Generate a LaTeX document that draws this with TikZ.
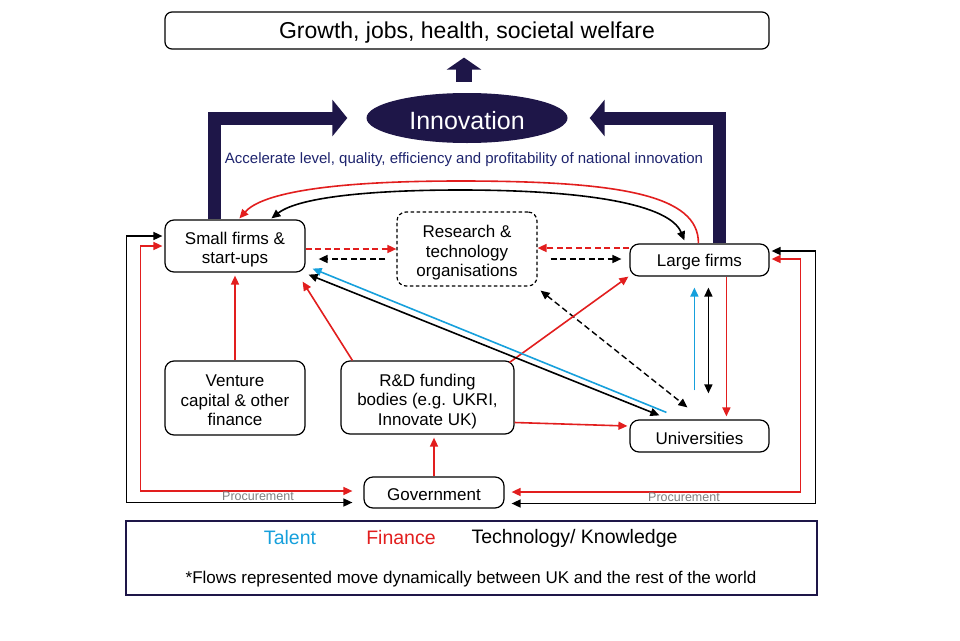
\documentclass[tikz,border=0pt]{standalone}
\usepackage{fontspec}
\setmainfont{Liberation Sans}
\usetikzlibrary{arrows.meta,shapes.geometric,calc}
\definecolor{navy}{RGB}{30,22,72}
\definecolor{fred}{RGB}{226,30,30}
\definecolor{tblue}{RGB}{22,160,220}
\definecolor{accblue}{RGB}{30,36,110}
\definecolor{procgray}{RGB}{128,128,128}
\newcommand\tlift{\rule{0pt}{20pt}}
\newcommand\slift{\rule{0pt}{16.5pt}}
\begin{document}
\begin{tikzpicture}[x=1pt,y=-1pt,
  >={Triangle[length=9pt,width=8pt]},
  box/.style={draw=black, line width=1.2pt, rounded corners=9pt, align=center, inner sep=0pt,
    font=\fontsize{17}{19.5}\selectfont},
  dbox/.style={box, dash pattern=on 3.5pt off 2.5pt},
  fin/.style={draw=fred, line width=1.6pt},
  tal/.style={draw=tblue, line width=1.6pt},
  tech/.style={draw=black, line width=1.6pt},
  dsh/.style={dash pattern=on 6pt off 3.5pt},
  bigarrow/.style={draw=navy, line width=13pt, line join=miter, -{Triangle[length=15pt,width=36pt]}},
  proc/.style={text=procgray, font=\fontsize{12.5}{14}\selectfont, inner sep=0pt},
  leg/.style={font=\fontsize{19.5}{22}\selectfont, inner sep=0pt}
]
\useasboundingbox (0,0) rectangle (960,640);
\fill[white] (0,0) rectangle (960,640);

% nodes
\node[box, rounded corners=7pt, minimum width=604pt, minimum height=37pt,
  font=\fontsize{23}{26}\selectfont] (top) at (467,30.5) {\rule{0pt}{21.5pt}Growth, jobs, health, societal welfare};
\node[ellipse, fill=navy, minimum width=201pt, minimum height=50pt, inner sep=0pt,
  text=white, font=\fontsize{25}{28}\selectfont] (inn) at (467,118) {\rule{0pt}{23pt}Innovation};
\node[text=accblue, font=\fontsize{15}{17}\selectfont, inner sep=0pt] (acc) at (464,160)
  {Accelerate level, quality, efficiency and profitability of national innovation};

\node[box, minimum width=140pt, minimum height=52pt] (sf) at (235,246) {\tlift Small firms \&\\start-ups};
\node[dbox, minimum width=140pt, minimum height=74pt] (rto) at (467,249) {\tlift Research \&\\technology\\organisations};
\node[box, minimum width=139pt, minimum height=32pt] (lf) at (699.5,260) {\slift Large firms};
\node[box, minimum width=140pt, minimum height=74pt] (vc) at (235,398) {\rule{0pt}{17pt}Venture\\capital \& other\\finance};
\node[box, minimum width=173pt, minimum height=73pt] (rd) at (427.5,397.5) {\tlift R\&D funding\\bodies (e.g. UKRI,\\Innovate UK)};
\node[box, minimum width=139pt, minimum height=32pt] (uni) at (699.5,436) {\slift Universities};
\node[box, minimum width=140pt, minimum height=31pt] (gov) at (434,492.5) {\slift Government};

% legend
\node[draw=navy, line width=1.3pt, minimum width=691pt, minimum height=74pt, inner sep=0pt] (lg) at (471.5,558) {};
\node[leg, text=tblue] (lt) at (290,538) {Talent};
\node[leg, text=fred] (lfin) at (401,538) {Finance};
\node[leg] (ltk) at (574.5,538) {Technology/ Knowledge};
\node[font=\fontsize{17}{19}\selectfont, inner sep=0pt] (fn) at (471,579)
  {*Flows represented move dynamically between UK and the rest of the world};

% big arrows
\draw[bigarrow] ($(sf.north west)+(50,0)$) |- ($(inn.west)+(-19,0)$);
\draw[bigarrow] ($(lf.north west)+(90.5,0)$) |- ($(inn.east)+(22,0)$);
\draw[draw=navy, line width=16pt, -{Triangle[length=12pt,width=34pt]}]
  ($(inn.north)+(-3,-11)$) -- ($(top.south)+(-3,8)$);

% RTO links
\draw[fin, dsh, ->] ($(sf.east)+(0,3)$) -- (rto.west);
\draw[tech, dsh, ->] ($(rto.west)+(-11,10)$) -- ($(sf.east)+(13,13)$);
\draw[fin, dsh, ->] ($(lf.west)+(0,-12)$) -- ($(rto.east)+(0,-1)$);
\draw[tech, dsh, ->] ($(rto.east)+(13,10)$) -- ($(lf.west)+(-8,-1)$);
\draw[tech, dsh, <->, line width=1.4pt] ($(rto.south east)+(3,4)$) -- ($(uni.north west)+(58,-12)$);

% finance flows
\draw[fin, ->, shorten >=3pt] (vc.north) -- (sf.south);
\draw[fin, ->] ($(rd.north west)+(12,0)$) -- ($(sf.south east)+(-3,9)$);
\draw[fin, ->] ($(rd.north east)+(-5,2)$) -- ($(lf.south west)+(-1,0)$);
\draw[fin, ->] ($(rd.east)+(0,25)$) -- ($(uni.west)+(-2,-10)$);
\draw[fin, ->, shorten >=3pt] (gov.north) -- (gov.north |- rd.south);
\draw[fin, ->, shorten >=3pt] ($(lf.south west)+(97,0)$) -- ($(uni.north west)+(97,0)$);

% talent / tech between universities and firms
\draw[tal, ->] ($(uni.north west)+(37,-7)$) -- ($(sf.south east)+(7,-4)$);
\draw[tech, <->] ($(sf.south east)+(3,2)$) -- ($(uni.north west)+(30,-4)$);
\draw[tal, ->] ($(uni.north west)+(65,-29)$) -- ($(lf.south west)+(65,11)$);
\draw[tech, <->] ($(uni.north west)+(79,-26)$) -- ($(lf.south west)+(79,11)$);

% curved links between small and large firms
\draw[fin, ->] ($(lf.north west)+(69,0)$) .. controls (699,195) and (620,181) .. (460,181)
  .. controls (330,181) and (262,193) .. ($(sf.north west)+(75,-1)$);
\draw[tech, <->] ($(sf.north west)+(107,-1)$) .. controls (300,196) and (380,190) .. (460,190)
  .. controls (590,190) and (670,205) .. ($(lf.north west)+(55,-3)$);

% procurement loops
\draw[tech, <->] ($(sf.west)+(-2,-10)$) -- ++(-36,0) |- ($(gov.west)+(-11,10)$);
\draw[fin, <->] ($(sf.west)+(-2,0)$) -- ++(-22,0) |- ($(gov.west)+(-11,-1.5)$);
\draw[tech, <->] ($(lf.east)+(2,-9)$) -- ++(44,0) |- ($(gov.east)+(7,11)$);
\draw[fin, <->] ($(lf.east)+(2,-1)$) -- ++(29,0) |- ($(gov.east)+(7,-0.5)$);
\node[proc] (p1) at (258,496) {Procurement};
\node[proc] (p2) at (684,497) {Procurement};
\end{tikzpicture}
\end{document}
